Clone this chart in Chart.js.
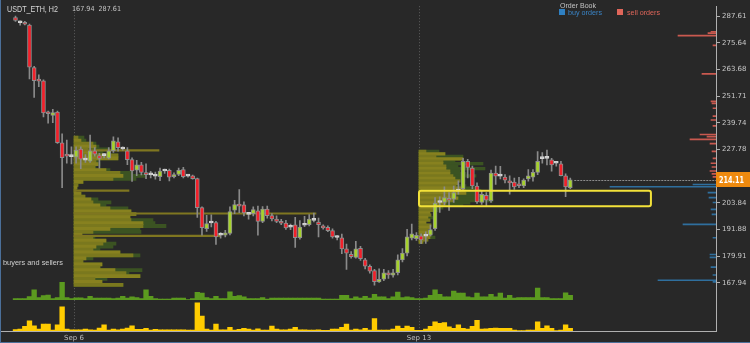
<!DOCTYPE html>
<html><head><meta charset="utf-8">
<script src="https://cdn.jsdelivr.net/npm/chart.js@4.4.1/dist/chart.umd.min.js"></script>
<style>html,body{margin:0;padding:0;background:#282828;overflow:hidden}canvas{display:block}</style>
</head><body>
<canvas id="c" width="750" height="343"></canvas>
<script>
// ---------------- DATA ----------------
const symbolTitle = 'USDT_ETH, H2';
const priceTicks = [287.61, 275.64, 263.68, 251.71, 239.74, 227.78, 215.81, 203.84, 191.88, 179.91, 167.94];
const dateTickPositions = [12.55, 86.55];
const dateLabels = ['Sep 6', 'Sep 13'];
const currentPrice = 214.11;

const opens = [286.9,284.6,284.7,283.6,264.5,258.6,258.6,244.0,243.0,244.5,
230.8,225.0,224.6,224.3,228.0,223.0,222.5,227.2,225.0,225.0,
223.9,227.2,231.2,228.0,227.2,223.2,218.5,220.9,217.3,216.4,
215.8,215.6,218.1,218.4,215.6,216.6,218.7,215.8,215.9,214.7,
201.7,192.3,194.8,195.0,189.3,189.3,190.1,200.6,203.3,202.9,
198.7,199.0,200.3,195.5,201.0,198.1,196.6,195.6,194.8,192.9,
194.0,188.2,193.8,194.0,196.0,195.2,193.4,192.9,191.4,188.3,
188.2,183.2,180.8,179.4,183.5,178.3,175.4,173.5,168.4,169.6,
172.5,171.4,172.5,178.3,181.3,188.0,187.8,189.0,188.9,189.3,
192.3,204.0,204.0,205.8,205.5,209.1,210.2,222.4,219.4,211.4,
204.0,207.2,204.8,217.2,215.8,215.4,213.6,213.2,212.2,211.4,
214.6,215.4,217.5,223.7,223.8,223.1,221.6,221.3,216.0,210.6];
const highs = [287.6,285.5,285.2,284.0,265.0,261.2,259.0,245.0,245.8,245.0,
234.8,232.0,229.0,229.0,229.0,225.5,234.2,228.6,226.0,226.0,
228.6,233.4,233.0,229.0,228.6,224.0,222.9,222.0,221.3,218.0,
217.6,219.4,219.0,219.0,217.3,219.4,219.8,216.5,216.3,215.0,
202.0,198.2,198.5,195.5,190.5,191.5,202.1,205.0,209.8,204.3,
199.6,202.0,202.4,202.2,202.4,199.0,198.0,196.5,196.0,194.3,
197.4,195.9,197.8,198.6,199.2,197.0,194.0,193.5,192.2,189.2,
189.8,185.4,182.0,186.6,184.3,179.0,176.0,174.0,174.3,174.0,
173.5,174.0,180.5,183.3,192.0,194.3,190.5,190.0,190.8,193.9,
206.2,206.5,211.0,208.4,211.4,213.7,223.8,223.4,220.3,212.8,
209.3,208.4,218.5,220.3,220.2,216.5,215.9,215.0,215.3,214.6,
218.7,218.7,226.8,226.4,227.5,223.8,222.5,222.4,216.8,215.0];
const lows = [285.2,283.5,283.6,259.4,251.1,255.9,242.4,239.6,239.8,230.5,
210.6,221.6,221.3,221.6,219.2,222.0,222.0,224.8,219.4,224.0,
223.5,226.5,227.0,227.5,221.0,213.4,216.0,216.4,214.7,215.0,
214.4,213.8,217.0,213.7,215.0,216.0,215.0,215.3,214.5,197.3,
189.4,191.0,193.0,185.2,188.0,188.6,189.5,199.0,199.4,198.0,
196.5,198.0,189.4,195.0,197.0,195.7,195.0,194.0,191.9,191.8,
183.8,187.5,193.2,193.5,195.3,188.6,192.0,190.9,188.0,187.2,
181.0,174.0,179.0,179.0,178.0,174.2,172.3,166.9,168.2,169.0,
170.0,170.5,171.5,177.4,180.0,187.2,187.0,185.5,185.7,189.0,
191.5,199.6,203.0,200.5,204.0,207.7,209.3,215.0,210.2,203.6,
203.1,202.6,204.0,212.1,214.6,212.8,207.7,209.9,210.6,210.6,
213.6,213.6,216.5,221.6,220.9,218.0,220.3,215.9,206.6,210.2];
const closes = [285.6,284.6,283.9,264.7,258.6,258.4,244.2,243.8,244.3,230.8,
224.1,224.8,224.6,227.5,223.4,223.0,227.2,225.7,223.8,225.0,
227.2,231.6,228.6,228.0,223.2,218.2,220.9,217.5,216.5,216.4,
215.8,218.1,218.1,215.3,216.5,218.4,215.6,215.8,214.7,201.7,
192.7,194.5,194.8,188.6,189.3,190.4,199.9,203.1,202.3,199.3,
198.7,200.8,195.5,201.0,198.1,196.6,195.5,194.7,192.6,192.9,
188.2,193.0,193.8,196.6,196.0,194.0,192.6,191.4,188.6,188.3,
183.2,181.3,179.7,183.2,178.8,175.4,173.2,168.5,169.6,172.5,
171.5,172.5,178.3,181.3,188.6,189.9,189.3,187.2,188.9,191.8,
203.7,204.0,206.2,205.0,208.4,209.1,222.4,219.7,211.4,204.3,
207.7,205.0,217.2,215.8,215.8,214.0,212.8,211.0,211.5,214.0,
216.0,217.5,222.4,223.7,223.8,220.9,221.6,216.0,211.0,214.11];

const buyersVolume = [1,1,1,3,10,2,4,4.5,1,2,
17.6,2,1,1.7,1.7,1,3.3,1.5,1.5,1.5,
1.5,1,1.5,3.3,1.5,2.7,2,1,10,3.3,
1,0.5,0.5,0.5,1.5,1.5,1.5,0,1,7.3,
6.7,2,1,3.3,1,1,8,3.3,4,2.7,
1,1,1,2,0.5,1.5,1.5,1.5,1.5,1.5,
1.5,1.5,1.5,1.5,1.5,1.5,0.5,0.5,0.5,0.5,
4.3,4.3,1,2.7,1.5,3.3,1.5,5.3,2.7,2.7,
1,2.7,7.7,2,2.7,2,1,1,1.5,4.3,
10,5.3,2.7,2.7,8.7,6.7,6.7,2.7,2,6.7,
2.7,2.7,5.3,2.7,6.7,1.5,4.3,1.5,2,2,
2,2,11.7,2,2,1,1,1,7,4.3];
const totalVolume = [1.5,2,4.7,10.3,5.3,2,7,7,1,6.3,
24.7,2,1.3,1.3,1.3,2,1.3,1,3,6.3,
1,2,1.3,2,3,5.3,1.7,1.7,2.7,1,
1.7,1.2,1.2,1.2,1.2,1.2,1.2,1,1,28.7,
15.3,2,1,7,1.3,1.3,3.7,1,1.7,2.7,
2,1,2.3,1,1,5,2,1.3,1.3,2,
3.7,1.3,1.3,1,1,1.3,0.7,0.7,2,2,
3.7,7,1,2,1.3,2.7,1,12.7,1,1,
1,2,5,2.7,5,3.7,0.7,0.7,2,4.7,
9.3,7.7,8.7,4.3,2.7,6.3,2.7,2,4.7,11,
2,2.3,2.7,3,2.7,2.7,2.7,1,0.5,0.5,
1,1,9.3,2.7,5.3,2.7,0.5,1,6.3,2.7];

const profile1Prices = [233.06,231.74,230.42,229.10,227.78,226.46,225.14,223.82,222.50,221.18,219.86,218.54,217.22,215.90,214.58,213.26,211.94,210.62,209.30,207.98,206.66,205.34,204.02,202.70,201.38,200.06,198.74,197.42,196.10,194.78,193.46,192.14,190.82,189.50,188.18,186.86,185.54,184.22,182.90,181.58,180.26,178.94,177.62,176.30,174.98,173.66,172.34,171.02,169.70,168.38,167.06];
const profile1Buy = [4,7,19,22,14,19,44,44,22,24,21,32,46,49,39,9,4,3,2,7,11,17,19,26,36,57,62,56,57,69,69,36,19,8,19,32,29,22,19,46,59,12,9,28,26,41,52,66,21,28,49];
const profile1Total = [10,12,22,25,36,29,44,44,24,26,22,36,59,72,62,9,4,3,2,7,11,24,37,32,54,57,62,56,79,81,92,66,67,8,21,32,42,39,26,46,66,19,9,28,26,68,55,66,33,28,49];
const profile1LevelPrices = [227.34, 209.30, 199.05, 189.06];
const profile1LevelVolume = [85, 55, 242, 146];

const profile2Prices = [226.89,225.79,224.69,223.59,222.49,221.39,220.29,219.19,218.09,216.99,215.89,214.79,213.69,212.59,211.49,210.39,209.29,208.19,207.09,205.99,204.89,203.79,202.69,201.59,200.49,199.39,198.29,197.19,196.09,194.99,193.89,192.79,191.69,190.59,189.49,188.39,187.29,186.19];
const profile2Buy = [7,26,17,44,24,24,27,27,31,31,34,36,41,39,37,42,46,47,37,39,34,27,26,17,14,11,12,9,11,7,12,11,9,11,12,11,9,4];
const profile2Total = [20,26,44,44,36,64,39,66,41,47,57,42,46,39,47,56,62,57,66,57,74,51,44,24,19,11,12,14,11,7,12,11,9,14,12,16,9,4];

const sellOrderPrices = [280.57,279.91,278.81,274.41,261.65,249.33,248.45,246.25,242.73,240.97,238.33,234.5,233.5,232.3,230.4,226.9,223.8,221.6,219.9,218.1,216.8,215.5];
const sellOrderSizes = [5,8,38,3,14,5,4,3,3,5,3,16,9,26,6,4,3,5,4,6,4,3];
const buyOrderPrices = [212.07,211.05,208.4,206.2,204.0,200.9,198.7,194.2,188.2,180.7,179.4,175.0,171.5,169.13,168.4];
const buyOrderSizes = [23,106,8,7,3,5,4,33,3,6,6,5,3,58,3];

const zonePriceLow = 202.3, zonePriceHigh = 209.3;
const zoneStart = 86.55, zoneEnd = 136.3;

// ---------------- STYLE / SCALE CONSTANTS ----------------
const PROFILE_SCALE = 1 / 4.662; // volume units -> candle slots
const C_UP = '#a6d22c', C_DOWN = '#f2202a', C_DOJI = '#d4d4d4';
const idx = opens.map((_, i) => i);

function candleColor(i) {
  if (closes[i] > opens[i]) return C_UP;
  if (closes[i] < opens[i]) return C_DOWN;
  return C_DOJI;
}
const OLIVE = profile1Prices.map((p, i) => i % 2 ? '#87811f' : '#7a781e');
const OLIVE2 = profile2Prices.map((p, i) => i % 2 ? '#87811f' : '#7a781e');

const datasets = [
  { type: 'bar', label: 'bodies', order: 1, xAxisID: 'x', yAxisID: 'y', grouped: false,
    data: idx.map(i => ({ x: i, y: [opens[i], closes[i]] })),
    backgroundColor: idx.map(candleColor),
    borderColor: idx.map(i => closes[i] === opens[i] ? C_DOJI : '#8e8e8e'),
    borderWidth: 1, borderSkipped: false, barThickness: 4, minBarLength: 2 },
  { type: 'bar', label: 'wicks', order: 2, xAxisID: 'x', yAxisID: 'y', grouped: false,
    data: idx.map(i => ({ x: i, y: [lows[i], highs[i]] })),
    backgroundColor: '#8a8a8a', barThickness: 1 },
  { type: 'bar', label: 'sell orders', order: 3, indexAxis: 'y', xAxisID: 'xOB', yAxisID: 'y', grouped: false,
    data: sellOrderPrices.map((p, i) => ({ y: p, x: [0, sellOrderSizes[i]] })),
    backgroundColor: '#c9594f', barThickness: 1 },
  { type: 'bar', label: 'buy orders', order: 3, indexAxis: 'y', xAxisID: 'xOB', yAxisID: 'y', grouped: false,
    data: buyOrderPrices.map((p, i) => ({ y: p, x: [0, buyOrderSizes[i]] })),
    backgroundColor: '#2f6f9e', barThickness: 1 },
  { type: 'bar', label: 'p1 levels', order: 4, indexAxis: 'y', xAxisID: 'x', yAxisID: 'y', grouped: false,
    data: profile1LevelPrices.map((p, i) => ({ y: p, x: [dateTickPositions[0], dateTickPositions[0] + profile1LevelVolume[i] * PROFILE_SCALE] })),
    backgroundColor: '#7f7620', barThickness: 1.5 },
  { type: 'bar', label: 'p1 buy', order: 5, indexAxis: 'y', xAxisID: 'x', yAxisID: 'y', grouped: false,
    data: profile1Prices.map((p, i) => ({ y: p, x: [dateTickPositions[0], dateTickPositions[0] + profile1Buy[i] * PROFILE_SCALE] })),
    backgroundColor: OLIVE, barThickness: 3.1 },
  { type: 'bar', label: 'p1 total', order: 6, indexAxis: 'y', xAxisID: 'x', yAxisID: 'y', grouped: false,
    data: profile1Prices.map((p, i) => ({ y: p, x: [dateTickPositions[0], dateTickPositions[0] + profile1Total[i] * PROFILE_SCALE] })),
    backgroundColor: '#3b5322', barThickness: 3.1 },
  { type: 'bar', label: 'p2 buy', order: 5, indexAxis: 'y', xAxisID: 'x', yAxisID: 'y', grouped: false,
    data: profile2Prices.map((p, i) => ({ y: p, x: [dateTickPositions[1], dateTickPositions[1] + profile2Buy[i] * PROFILE_SCALE] })),
    backgroundColor: OLIVE2, barThickness: 2.6 },
  { type: 'bar', label: 'p2 total', order: 6, indexAxis: 'y', xAxisID: 'x', yAxisID: 'y', grouped: false,
    data: profile2Prices.map((p, i) => ({ y: p, x: [dateTickPositions[1], dateTickPositions[1] + profile2Total[i] * PROFILE_SCALE] })),
    backgroundColor: '#3b5322', barThickness: 2.6 },
  { type: 'bar', label: 'buyers', order: 7, xAxisID: 'x', yAxisID: 'yG', grouped: false,
    data: idx.map(i => ({ x: i, y: buyersVolume[i] })),
    backgroundColor: '#5b9a1f', barThickness: 4.7 },
  { type: 'bar', label: 'volume', order: 7, xAxisID: 'x', yAxisID: 'yY', grouped: false,
    data: idx.map(i => ({ x: i, y: totalVolume[i] })),
    backgroundColor: '#ffcc00', barThickness: 4.7 }
];

function fitText(ctx, str, x, y, w, font, color) {
  ctx.save();
  ctx.font = font; ctx.fillStyle = color; ctx.textBaseline = 'alphabetic'; ctx.textAlign = 'left';
  const m = ctx.measureText(str).width;
  ctx.translate(x, y);
  if (w) ctx.scale(w / m, 1);
  ctx.fillText(str, 0, 0);
  ctx.restore();
}

const overlay = {
  id: 'overlay',
  beforeDraw(chart) {
    const ctx = chart.ctx;
    ctx.save(); ctx.fillStyle = '#282828'; ctx.fillRect(0, 0, chart.width, chart.height); ctx.restore();
  },
  beforeDatasetsDraw(chart) {
    const ctx = chart.ctx, a = chart.chartArea, xs = chart.scales.x;
    ctx.save();
    ctx.strokeStyle = '#5e5e5e'; ctx.lineWidth = 1; ctx.setLineDash([1, 2]);
    dateTickPositions.forEach(v => {
      const px = Math.round(xs.getPixelForValue(v)) + 0.5;
      ctx.beginPath(); ctx.moveTo(px, a.top); ctx.lineTo(px, a.bottom); ctx.stroke();
    });
    ctx.restore();
  },
  afterDatasetsDraw(chart) {
    const ctx = chart.ctx, a = chart.chartArea, xs = chart.scales.x, ys = chart.scales.y;
    ctx.save();
    const x1 = xs.getPixelForValue(zoneStart), x2 = xs.getPixelForValue(zoneEnd);
    const y1 = ys.getPixelForValue(zonePriceHigh), y2 = ys.getPixelForValue(zonePriceLow);
    ctx.strokeStyle = '#f3e23a'; ctx.lineWidth = 2;
    ctx.beginPath();
    if (ctx.roundRect) ctx.roundRect(x1, y1, x2 - x1, y2 - y1, 2); else ctx.rect(x1, y1, x2 - x1, y2 - y1);
    ctx.stroke();
    const cy = Math.round(ys.getPixelForValue(currentPrice)) + 0.5;
    const lx = xs.getPixelForValue(opens.length - 1) + 4;
    ctx.strokeStyle = '#8c8c8c'; ctx.lineWidth = 1; ctx.setLineDash([2, 1]);
    ctx.beginPath(); ctx.moveTo(lx, cy); ctx.lineTo(a.right, cy); ctx.stroke();
    ctx.restore();
  },
  afterDraw(chart) {
    const ctx = chart.ctx, a = chart.chartArea, ys = chart.scales.y;
    ctx.save();
    const cy = ys.getPixelForValue(currentPrice);
    ctx.fillStyle = '#ee8a0f';
    ctx.fillRect(a.right, Math.round(cy) - 8, chart.width - a.right, 15);
    ctx.restore();
    fitText(ctx, currentPrice.toFixed(2), a.right + 3, Math.round(cy) + 3, 25, 'bold 8px "DejaVu Sans"', '#ffffff');
    fitText(ctx, symbolTitle, 7, 12, 51, '9px "Liberation Sans"', '#d6d6d6');
    fitText(ctx, priceTicks[priceTicks.length - 1].toFixed(2) + '  ' + priceTicks[0].toFixed(2), 72, 11, 49, '7px "DejaVu Sans"', '#c4c4c4');
    fitText(ctx, 'Order Book', 560, 8, 36, '8px "Liberation Sans"', '#c4c4c4');
    ctx.save();
    ctx.fillStyle = '#2f80c2'; ctx.fillRect(559, 9, 6, 6);
    ctx.fillStyle = '#e0665a'; ctx.fillRect(617, 9, 6, 6);
    ctx.restore();
    fitText(ctx, 'buy orders', 568, 15, 34, '8px "Liberation Sans"', '#3a84c6');
    fitText(ctx, 'sell orders', 627, 15, 33, '8px "Liberation Sans"', '#e0665a');
    fitText(ctx, 'buyers and sellers', 3, 265, 60, '8px "Liberation Sans"', '#d0d0d0');
    ctx.save();
    ctx.fillStyle = '#4b6f99';
    ctx.fillRect(0, 0, 1, chart.height);
    ctx.fillRect(0, chart.height - 1, chart.width, 1);
    ctx.restore();
  }
};

new Chart(document.getElementById('c'), {
  type: 'bar',
  data: { datasets },
  options: {
    responsive: false, animation: false, devicePixelRatio: 1, events: [],
    layout: { padding: { left: 1, top: 0, right: 0, bottom: 0 } },
    plugins: { legend: { display: false }, tooltip: { enabled: false } },
    scales: {
      x: { type: 'linear', position: 'bottom', min: -3.11, max: 150.26, offset: false,
        afterBuildTicks: s => { s.ticks = dateTickPositions.map(v => ({ value: v })); },
        afterFit: s => { s.height = 12; },
        grid: { display: false, drawTicks: false, offset: false },
        border: { display: true, color: '#b0b0b0', width: 1 },
        ticks: { autoSkip: false, maxRotation: 0, padding: 3, color: '#bdbdbd', font: { family: 'DejaVu Sans', size: 7 },
          callback: (v) => { const k = dateTickPositions.indexOf(v); return k >= 0 ? dateLabels[k] : ''; } } },
      y: { type: 'linear', position: 'right', min: 146.38, max: 292.01, offset: false,
        afterBuildTicks: s => { s.ticks = priceTicks.map(v => ({ value: v })); },
        afterFit: s => { s.width = 34; },
        grid: { display: true, offset: false, drawOnChartArea: false, drawTicks: true, tickLength: 4, color: '#b0b0b0' },
        border: { display: true, color: '#b0b0b0', width: 1 },
        ticks: { autoSkip: false, padding: 2, color: '#c8c8c8', font: { family: 'DejaVu Sans', size: 7 },
          callback: v => Number(v).toFixed(2) } },
      yG: { type: 'linear', display: false, offset: false, min: -32, max: 299 },
      yY: { type: 'linear', display: false, offset: false, min: 0, max: 331 },
      xOB: { type: 'linear', display: false, offset: false, reverse: true, min: 0, max: 715 }
    }
  },
  plugins: [overlay]
});
</script>
</body></html>
